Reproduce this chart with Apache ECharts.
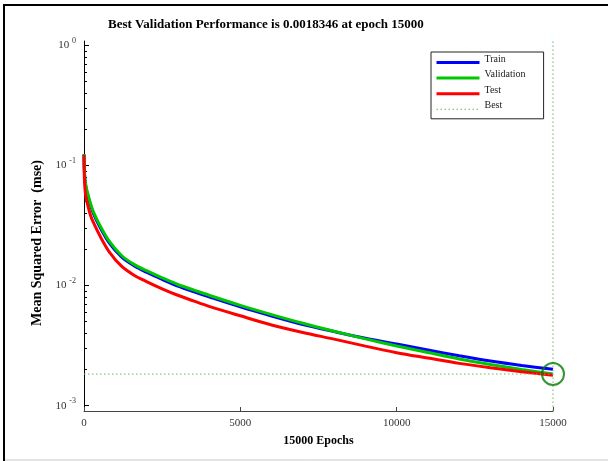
<!DOCTYPE html>
<html><head><meta charset="utf-8">
<script src="https://cdn.jsdelivr.net/npm/echarts@6/dist/echarts.min.js"></script>
<style>html,body{margin:0;padding:0;background:#fff}#c{width:608px;height:461px}</style>
</head><body><div id="c"></div>
<script>
const epochs = [0,10,30,60,100,200,300,500,800,1200,1600,2000,2500,3000,3500,4000,5000,6000,7000,8000,9000,10000,11000,12000,13000,14000,15000];
const trainMse = [0.124,0.093,0.076,0.066,0.059,0.0475,0.0398,0.0310,0.0228,0.0173,0.0146,0.0129,0.01125,0.0099,0.0089,0.00805,0.00664,0.00558,0.00474,0.00414,0.00364,0.00326,0.00291,0.00260,0.00235,0.00216,0.00201];
const validationMse = [0.124,0.095,0.078,0.068,0.061,0.049,0.041,0.032,0.0235,0.0178,0.0150,0.0133,0.0116,0.0102,0.0092,0.0083,0.00684,0.00573,0.00485,0.00416,0.00360,0.00314,0.00277,0.00245,0.00220,0.00200,0.0018346];
const testMse = [0.122,0.082,0.064,0.055,0.049,0.039,0.0335,0.0262,0.0192,0.0145,0.0122,0.0108,0.0094,0.0083,0.00745,0.00671,0.0056,0.0047,0.00407,0.00358,0.00313,0.00276,0.00249,0.00225,0.00207,0.00192,0.00179];
const bestEpoch = 15000;
const bestValue = 0.0018346;
const yMin = 0.000903;
const yMax = 1.086;
const xMin = 0, xMax = 15000, xInterval = 5000;
const yMajorTicks = [0.001, 0.01, 0.1, 1];
const yMinorTicks = [0.002,0.003,0.004,0.005,0.006,0.007,0.008,0.009,0.02,0.03,0.04,0.05,0.06,0.07,0.08,0.09,0.2,0.3,0.4,0.5,0.6,0.7,0.8,0.9];
const legendNames = ['Train', 'Validation', 'Test', 'Best'];

const FONT = 'Liberation Serif';
const pairs = arr => epochs.map((e, i) => [e, arr[i]]);

const chart = echarts.init(document.getElementById('c'), null, {renderer: 'canvas'});
chart.setOption({
  animation: false,
  backgroundColor: '#fff',
  title: {
    text: 'Best Validation Performance is 0.0018346 at epoch 15000',
    left: 108, top: 18, padding: 0,
    textStyle: {fontFamily: FONT, fontSize: 13, fontWeight: 'bold', color: '#000'}
  },
  grid: {left: 84, right: 55, top: 41, bottom: 50, containLabel: false},
  legend: {
    data: legendNames.map(n => ({name: n, lineStyle: n === 'Best' ? {width: 1} : {width: 3}})),
    orient: 'vertical', left: 431, top: 52,
    itemWidth: 43, itemHeight: 10, itemGap: -1.4,
    padding: [2, 18, 1, 4],
    borderColor: '#222', borderWidth: 1, backgroundColor: '#fff',
    itemStyle: {color: 'rgba(0,0,0,0)', borderWidth: 0, opacity: 0},
    formatter: '{t|{name}}',
    textStyle: {fontFamily: FONT, fontSize: 10, color: '#222',
      rich: {t: {fontFamily: FONT, fontSize: 10, color: '#222', lineHeight: 12, padding: [0, 0, 7, 0]}}}
  },
  xAxis: {
    type: 'value', min: xMin, max: xMax, interval: xInterval,
    axisLine: {show: true, lineStyle: {color: '#444', width: 1}},
    axisTick: {show: true, inside: true, length: 4, lineStyle: {color: '#444'}},
    axisLabel: {fontFamily: FONT, fontSize: 11, color: '#333', margin: 7, formatter: v => String(v)},
    splitLine: {show: false},
    name: '15000 Epochs', nameLocation: 'middle', nameGap: 24,
    nameTextStyle: {fontFamily: FONT, fontSize: 12, fontWeight: 'bold', color: '#000'}
  },
  yAxis: [{
    type: 'log', min: yMin, max: yMax, position: 'left',
    axisLine: {show: true, lineStyle: {color: '#000', width: 1}},
    axisTick: {show: true, inside: true, length: 5, lineStyle: {color: '#000'}, customValues: yMajorTicks},
    axisLabel: {
      customValues: yMajorTicks, margin: 8,
      formatter: v => '{b|10} {e|' + Math.round(Math.log10(v)) + '}',
      rich: {
        b: {fontFamily: FONT, fontSize: 11, color: '#333'},
        e: {fontFamily: FONT, fontSize: 8, color: '#333', padding: [0, 0, 9, 0]}
      },
      fontFamily: FONT, fontSize: 11, color: '#333'
    },
    splitLine: {show: false}, minorTick: {show: false}
  }, {
    type: 'log', min: yMin, max: yMax, position: 'left', offset: 0,
    axisLine: {show: false},
    axisTick: {show: true, inside: true, length: 3, lineStyle: {color: '#000'}, customValues: yMinorTicks},
    axisLabel: {show: false},
    splitLine: {show: false}
  }],
  graphic: [
    {type: 'line', shape: {x1: 4, y1: 5, x2: 608, y2: 5}, style: {stroke: '#000', lineWidth: 2}},
    {type: 'line', shape: {x1: 4, y1: 4, x2: 4, y2: 461}, style: {stroke: '#000', lineWidth: 2}},
    {type: 'line', shape: {x1: 5, y1: 460, x2: 608, y2: 460}, style: {stroke: '#c8c8c8', lineWidth: 1}},
    {type: 'text', x: 37, y: 243, rotation: Math.PI / 2,
     style: {text: 'Mean Squared Error  (mse)', fontFamily: FONT, fontSize: 14, fontWeight: 'bold', fill: '#000', align: 'center', verticalAlign: 'middle'}}
  ],
  series: [
    {name: 'Train', type: 'line', data: pairs(trainMse), symbol: 'none', smooth: 0.3,
     lineStyle: {color: '#0000ff', width: 3}, itemStyle: {color: '#0000ff'}},
    {name: 'Validation', type: 'line', data: pairs(validationMse), symbol: 'none', smooth: 0.3,
     lineStyle: {color: '#00c800', width: 3}, itemStyle: {color: '#00c800'}},
    {name: 'Test', type: 'line', data: pairs(testMse), symbol: 'none', smooth: 0.3,
     lineStyle: {color: '#ff0000', width: 3}, itemStyle: {color: '#ff0000'}},
    {name: 'Best', type: 'line', data: [[xMin, bestValue], [bestEpoch, bestValue]], symbol: 'none',
     lineStyle: {color: '#66bb66', width: 1, type: [1.5, 2.5]}, itemStyle: {color: '#66bb66'}},
    {name: 'Best', type: 'line', data: [[bestEpoch, yMin], [bestEpoch, yMax]], symbol: 'none',
     lineStyle: {color: '#66bb66', width: 1, type: [1.5, 2.5]}, itemStyle: {color: '#66bb66'}},
    {name: 'Best point', type: 'scatter', data: [[bestEpoch, bestValue]], symbol: 'circle', symbolSize: 22,
     itemStyle: {color: 'rgba(0,0,0,0)', borderColor: '#007a00', borderWidth: 2}, z: 5}
  ]
});
</script></body></html>
